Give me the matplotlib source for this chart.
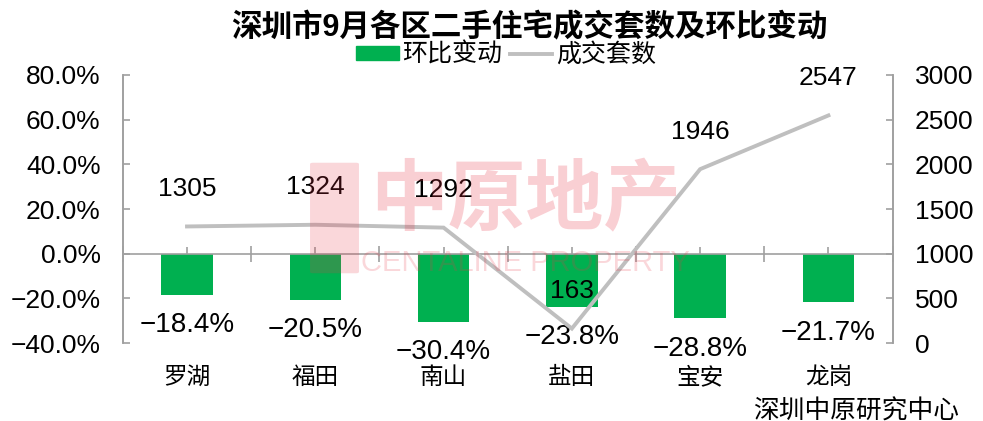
import matplotlib.pyplot as plt
import numpy as np
from matplotlib.patches import Patch, FancyBboxPatch
from matplotlib.lines import Line2D
from matplotlib.ticker import FuncFormatter, FixedLocator
from matplotlib.transforms import blended_transform_factory

plt.rcParams['font.family'] = ['Liberation Sans', 'Noto Sans CJK SC', 'DejaVu Sans']

# data
districts = ["罗湖", "福田", "南山", "盐田", "宝安", "龙岗"]
mom_change = [-18.4, -20.5, -30.4, -23.8, -28.8, -21.7]   # 环比变动, %
deals = [1305, 1324, 1292, 163, 1946, 2547]               # 成交套数

green = "#00b050"
gray_line = "#bfbfbf"
axis_gray = "#a0a0a0"

fig = plt.figure(figsize=(9.83, 4.21), dpi=100)
ax = fig.add_axes([0.125, 0.185, 0.783, 0.637])
x = np.arange(len(districts))

ax.bar(x, mom_change, width=0.4, color=green, zorder=2)
ax.set_xlim(-0.5, len(districts) - 0.5)
ax.set_ylim(-40, 80)
ax.set_yticks(np.arange(-40, 81, 20))
ax.yaxis.set_major_formatter(FuncFormatter(lambda v, p: f"{v:.1f}%".replace("-", "\u2212")))

# x axis sits on the zero line: crossing ticks at boundaries, short ones at centres
ax.spines["top"].set_visible(False)
ax.spines["bottom"].set_position(("data", 0))
for s in ["bottom", "left", "right"]:
    ax.spines[s].set_color(axis_gray)
    ax.spines[s].set_linewidth(1.2)
ax.xaxis.set_major_locator(FixedLocator(np.arange(-0.5, len(districts), 1.0)))
ax.xaxis.set_minor_locator(FixedLocator(x))
ax.set_xticklabels([])
ax.tick_params(axis="x", which="major", direction="inout", length=12, color=axis_gray, width=1.2)
ax.tick_params(axis="x", which="minor", direction="in", length=5, color=axis_gray, width=1.2)
ax.tick_params(axis="y", direction="in", length=5, color=axis_gray, width=1.2,
               labelsize=19, pad=16)

# category labels under the plot
trans = blended_transform_factory(ax.transData, fig.transFigure)
for xi, name in zip(x, districts):
    ax.text(xi, 1 - 378 / 421, name, transform=trans, ha="center", va="center", fontsize=17)

for xi, v in zip(x, mom_change):
    ax.annotate(f"{v:.1f}%".replace("-", "\u2212"), (xi, v), xytext=(0, -22),
                textcoords="offset points", ha="center", va="center", fontsize=20, zorder=5)

ax2 = ax.twinx()
ax2.plot(x, deals, color=gray_line, lw=2.8, solid_joinstyle="miter")
ax2.set_ylim(0, 3000)
ax2.set_yticks(np.arange(0, 3001, 500))
ax2.tick_params(axis="y", direction="in", length=5, color=axis_gray, width=1.2,
                labelsize=19, pad=16)
for s in ["top", "bottom"]:
    ax2.spines[s].set_visible(False)
for s in ["left", "right"]:
    ax2.spines[s].set_color(axis_gray)
    ax2.spines[s].set_linewidth(1.2)
for xi, v in zip(x, deals):
    ax2.annotate(str(v), (xi, v), xytext=(0, 27), textcoords="offset points",
                 ha="center", va="center", fontsize=19)

# title and legend
fig.text(0.538, 1 - 28 / 421, "深圳市9月各区二手住宅成交套数及环比变动", ha="center", va="center",
         fontsize=22, fontweight="bold")
handles = [Patch(color=green, label="环比变动"),
           Line2D([], [], color=gray_line, lw=2.8, label="成交套数")]
fig.legend(handles=handles, loc="center", bbox_to_anchor=(0.515, 1 - 55 / 421), ncol=2,
           frameon=False, fontsize=18, handlelength=1.7, handleheight=0.45,
           handletextpad=0.15, columnspacing=0.3, borderpad=0)

# watermark
wm = "#e8374a"
fig.text(0.535, 1 - 202 / 421, "中原地产", ha="center", va="center", fontsize=56,
         fontweight="bold", color=wm, alpha=0.24, family=["Noto Sans CJK SC"])
fig.text(0.535, 1 - 263 / 421, "CENTALINE PROPERTY", ha="center", va="center",
         fontsize=21, color=wm, alpha=0.2)
fig.patches.append(FancyBboxPatch((313 / 983, 1 - 272 / 421), 43 / 983, 108 / 421,
                                  boxstyle="round,pad=0.003", transform=fig.transFigure,
                                  color=wm, alpha=0.2, lw=0))

fig.text(753 / 983, 1 - 399 / 421, "深圳中原研究中心", ha="left", va="top", fontsize=18.5)

fig.savefig("out.png", dpi=100)
